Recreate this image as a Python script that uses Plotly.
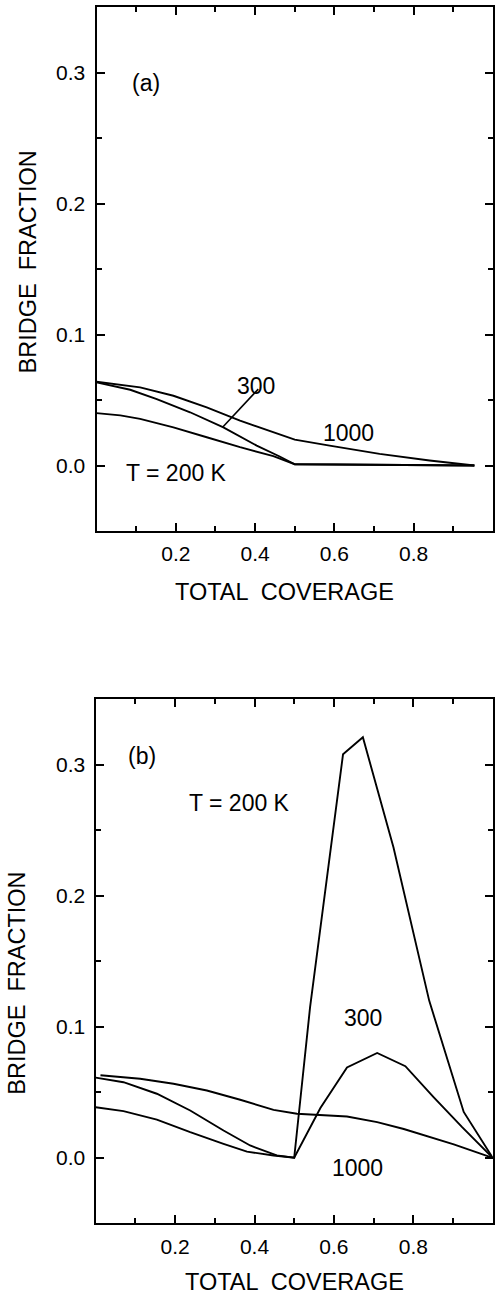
import plotly.graph_objects as go

# ---- Panel (a) ----
cov_a_1000 = [0.0, 0.05, 0.11, 0.194, 0.278, 0.362, 0.446, 0.5, 0.588, 0.714, 0.84, 0.953]
frac_a_1000 = [0.064, 0.0623, 0.0597, 0.0533, 0.0445, 0.0343, 0.0254, 0.0198, 0.0152, 0.0089, 0.0038, 0.0]

cov_a_300 = [0.0, 0.085, 0.152, 0.236, 0.32, 0.404, 0.462, 0.5, 0.6, 0.7, 0.8, 0.953]
frac_a_300 = [0.0635, 0.0579, 0.0508, 0.0407, 0.0292, 0.0152, 0.0069, 0.001, 0.0008, 0.0005, 0.0003, 0.0]

cov_a_200 = [0.0, 0.06, 0.11, 0.194, 0.278, 0.362, 0.446, 0.5, 0.6, 0.7, 0.8, 0.953]
frac_a_200 = [0.040, 0.0383, 0.0356, 0.0292, 0.0216, 0.014, 0.0072, 0.001, 0.0008, 0.0005, 0.0003, 0.0]

# ---- Panel (b) ----
cov_b_1000 = [0.012, 0.112, 0.196, 0.28, 0.364, 0.448, 0.507, 0.633, 0.709, 0.776, 0.902, 1.0]
frac_b_1000 = [0.063, 0.0603, 0.0565, 0.0514, 0.0443, 0.0366, 0.0336, 0.0315, 0.0272, 0.022, 0.0102, 0.0]

cov_b_300 = [0.0, 0.07, 0.154, 0.238, 0.322, 0.389, 0.456, 0.5, 0.566, 0.633, 0.709, 0.78, 0.851, 0.923, 1.0]
frac_b_300 = [0.0612, 0.0577, 0.0489, 0.0361, 0.0208, 0.0094, 0.0018, 0.0, 0.038, 0.069, 0.080, 0.0699, 0.0463, 0.0234, 0.0]

cov_b_200 = [0.0, 0.07, 0.154, 0.238, 0.322, 0.381, 0.448, 0.5, 0.54, 0.623, 0.673, 0.75, 0.84, 0.927, 1.0]
frac_b_200 = [0.0386, 0.0356, 0.0292, 0.0196, 0.0107, 0.0047, 0.0018, 0.0, 0.115, 0.308, 0.321, 0.237, 0.120, 0.035, 0.0]

# axis ticks
x_major = [0.0, 0.2, 0.4, 0.6, 0.8, 1.0]
x_major_text = ["", "0.2", "0.4", "0.6", "0.8", ""]
x_minor = [0.1, 0.3, 0.5, 0.7, 0.9]
y_major = [0.0, 0.1, 0.2, 0.3]
y_major_text = ["0.0", "0.1", "0.2", "0.3"]
y_minor = [0.05, 0.15, 0.25]

FONT = "Liberation Sans, Arial, sans-serif"
line_style = dict(color="black", width=1.9)

fig = go.Figure()
for xs, ys in [(cov_a_1000, frac_a_1000), (cov_a_300, frac_a_300), (cov_a_200, frac_a_200)]:
    fig.add_trace(go.Scatter(x=xs, y=ys, mode="lines", line=line_style,
                             xaxis="x", yaxis="y", showlegend=False))
for xs, ys in [(cov_b_1000, frac_b_1000), (cov_b_300, frac_b_300), (cov_b_200, frac_b_200)]:
    fig.add_trace(go.Scatter(x=xs, y=ys, mode="lines", line=line_style,
                             xaxis="x2", yaxis="y2", showlegend=False))

def xaxis(domain, anchor):
    return dict(domain=domain, anchor=anchor, range=[0, 1],
                showline=True, linecolor="black", linewidth=2, mirror="ticks",
                ticks="inside", ticklen=8, tickwidth=2, tickcolor="black",
                tickmode="array", tickvals=x_major, ticktext=x_major_text,
                minor=dict(ticks="inside", ticklen=5, tickwidth=1.5, tickcolor="black",
                           tickmode="array", tickvals=x_minor),
                showgrid=False, zeroline=False, ticklabelstandoff=3,
                tickfont=dict(family=FONT, size=21, color="black"))

def yaxis(domain, anchor):
    # tick labels for y are placed as annotations below, at a fixed gap from the frame
    return dict(domain=domain, anchor=anchor, range=[-0.05, 0.35],
                showline=True, linecolor="black", linewidth=2, mirror="ticks",
                ticks="inside", ticklen=8, tickwidth=2, tickcolor="black",
                tickmode="array", tickvals=y_major, showticklabels=False,
                minor=dict(ticks="inside", ticklen=5, tickwidth=1.5, tickcolor="black",
                           tickmode="array", tickvals=y_minor),
                showgrid=False, zeroline=False)

W, H = 497, 1294
fig.update_layout(
    width=W, height=H,
    margin=dict(l=0, r=0, t=0, b=0),
    paper_bgcolor="white", plot_bgcolor="white",
    xaxis=xaxis([96.5 / W, 493 / W], "y"),
    yaxis=yaxis([1 - 531 / H, 1 - 7.3 / H], "x"),
    xaxis2=xaxis([95.7 / W, 492.7 / W], "y2"),
    yaxis2=yaxis([1 - 1223.3 / H, 1 - 699.3 / H], "x2"),
)

# pointer from the "300" label to its curve in panel (a)
fig.add_shape(type="line", xref="x", yref="y", x0=0.408, y0=0.0584, x1=0.318, y1=0.0292,
              line=dict(color="black", width=1.6))

def label(text, x, y, xref, yref, size=23, angle=0, xanchor="center"):
    fig.add_annotation(text=text, x=x, y=y, xref=xref, yref=yref, showarrow=False,
                       xanchor=xanchor, yanchor="middle", textangle=angle,
                       font=dict(family=FONT, size=size, color="black"))

# y tick labels, right-aligned left of each frame
for yref in ("y", "y2"):
    for v, t in zip(y_major, y_major_text):
        label(t, 86.5 / W, v, "paper", yref, size=21, xanchor="right")

# in-plot labels
label("(a)", 0.125, 0.292, "x", "y")
label("300", 0.402, 0.061, "x", "y")
label("1000", 0.636, 0.025, "x", "y")
label("T = 200 K", 0.203, -0.006, "x", "y")

label("(b)", 0.1155, 0.307, "x2", "y2")
label("T = 200 K", 0.3614, 0.271, "x2", "y2")
label("300", 0.674, 0.107, "x2", "y2")
label("1000", 0.659, -0.008, "x2", "y2")

# axis titles
label("BRIDGE  FRACTION", 27.5 / W, 1 - 262 / H, "paper", "paper", size=23.5, angle=-90)
label("BRIDGE  FRACTION", 16.7 / W, 1 - 983 / H, "paper", "paper", size=23.5, angle=-90)
label("TOTAL  COVERAGE", 284 / W, 1 - 592 / H, "paper", "paper", size=23.5)
label("TOTAL  COVERAGE", 294 / W, 1 - 1282 / H, "paper", "paper", size=23.5)

fig.write_html("out.html")
